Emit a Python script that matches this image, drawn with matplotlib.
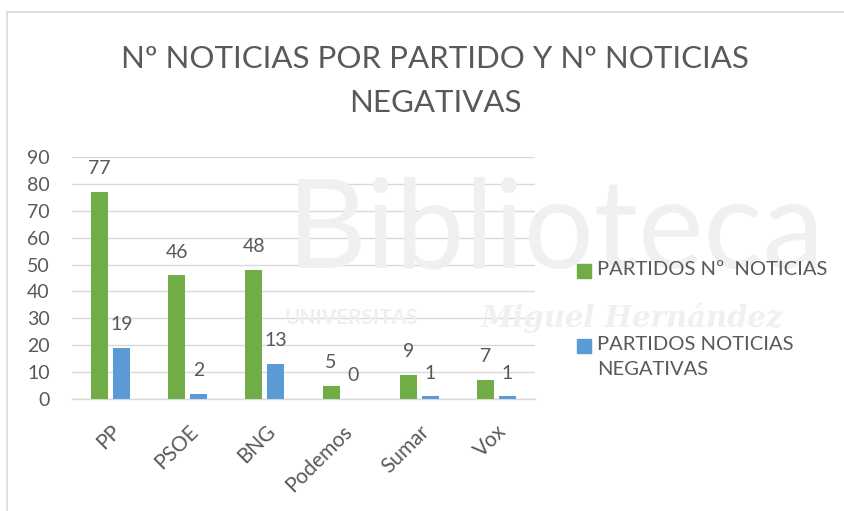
import matplotlib.pyplot as plt
import matplotlib.patches as mpatches
import numpy as np

partidos = ['PP', 'PSOE', 'BNG', 'Podemos', 'Sumar', 'Vox']
noticias = [77, 46, 48, 5, 9, 7]
negativas = [19, 2, 13, 0, 1, 1]
serie1 = 'PARTIDOS Nº  NOTICIAS'
serie2 = 'PARTIDOS NOTICIAS\nNEGATIVAS'
titulo = 'Nº NOTICIAS POR PARTIDO Y Nº NOTICIAS\nNEGATIVAS'

verde = '#70AD47'
azul = '#5B9BD5'
gris = '#595959'

plt.rcParams['font.family'] = ['Lato', 'DejaVu Sans']

W, H = 845, 511
fig = plt.figure(figsize=(8.45, 5.11), dpi=100)
fig.patch.set_facecolor('white')


def fx(px):
    return px / W


def fy(py):
    return 1 - py / H


# marco del grafico
fig.patches.append(mpatches.Rectangle((fx(7), -0.1), 1.0, fy(12) + 0.1,
                                      transform=fig.transFigure, fill=False,
                                      edgecolor='#D9D9D9', linewidth=1.2))

# marca de agua
fig.text(fx(287), fy(267), 'Biblioteca', fontsize=89, color='#F0F0F0', ha='left',
         va='baseline', zorder=0)
fig.text(fx(285), fy(318), 'UNIVERSITAS', fontsize=15, color='#EFEFEF', ha='left',
         va='center', fontweight='bold', zorder=0)
fig.text(fx(481), fy(318), 'Miguel Hernández', fontsize=21, color='#F0F0F0', ha='left',
         va='center', family='DejaVu Serif', style='italic', fontweight='bold', zorder=0)

ax = fig.add_axes([fx(72), fy(399), fx(535) - fx(72), (399 - 157) / H])
ax.set_facecolor('none')

x = np.arange(len(partidos))
w = 0.22
gap = 0.065
b1 = ax.bar(x - (w + gap) / 2, noticias, w, color=verde, label=serie1, zorder=3)
b2 = ax.bar(x + (w + gap) / 2, negativas, w, color=azul, label=serie2, zorder=3)

for rects, vals in ((b1, noticias), (b2, negativas)):
    for r, v in zip(rects, vals):
        ax.text(r.get_x() + r.get_width() / 2, v + 5.5, str(v), ha='center', va='bottom',
                fontsize=14, color=gris)

ax.set_xlim(-0.5, len(partidos) - 0.5)
ax.set_ylim(0, 90)
ax.set_yticks(range(0, 91, 10))
ax.yaxis.grid(True, color='#D9D9D9', linewidth=1, zorder=0)
for s in ['top', 'right', 'left']:
    ax.spines[s].set_visible(False)
ax.spines['bottom'].set_color('#D9D9D9')
ax.spines['bottom'].set_linewidth(1)
ax.tick_params(axis='both', length=0, labelsize=14, labelcolor=gris)
ax.tick_params(axis='y', pad=16)
ax.set_xticks(x)
ax.set_xticklabels(partidos, rotation=45, ha='right', rotation_mode='anchor', fontsize=15)
ax.tick_params(axis='x', pad=16)

fig.text(0.515, fy(81), titulo, ha='center', va='center', fontsize=22.5, color=gris,
         linespacing=1.72)

# leyenda
for col, lab, ytop in ((verde, serie1, 264), (azul, serie2, 339)):
    fig.patches.append(mpatches.Rectangle((fx(577), fy(ytop + 14)), 14 / W, 14 / H,
                                          transform=fig.transFigure, color=col))
    fig.text(fx(597), fy(ytop - 3), lab, ha='left', va='top', fontsize=14.5, color=gris,
             linespacing=1.55)

fig.savefig('out.png', dpi=100)
